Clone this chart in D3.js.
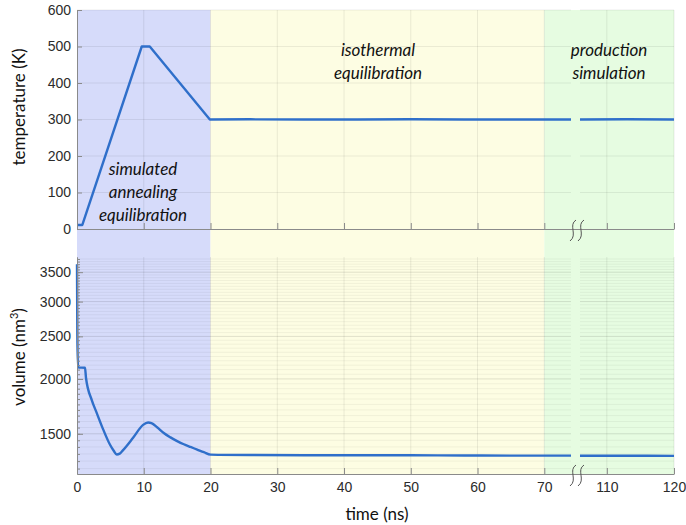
<!DOCTYPE html>
<html>
<head>
<meta charset="utf-8">
<script src="https://cdn.jsdelivr.net/npm/d3@7"></script>
<style>
  body { margin: 0; background: #fff; }
  svg { display: block; }
</style>
</head>
<body>
<div id="chart"></div>
<script>
// run phases (ns)
var phaseStart = [0, 20, 70];
var phaseEnd = [20, 70, 120];
var phaseColors = ["#d6dbfa", "#fdfde3", "#e6fce1"];
var phaseLabels = [["simulated", "annealing", "equilibration"], ["isothermal", "equilibration"], ["production", "simulation"]];

// tick labels
var xTicks = [0, 10, 20, 30, 40, 50, 60, 70, 110, 120];
var tempTicks = [0, 100, 200, 300, 400, 500, 600];
var volTicks = [1500, 2000, 2500, 3000, 3500];

// temperature (K) vs time (ns)
var tempTime = [0, 0.8, 9.7, 10.9, 19.9, 26, 34, 42, 50, 58, 66, 74, 106, 113, 120];
var tempVal = [11, 11, 500, 500, 300, 300.5, 300, 300, 300.5, 300, 300, 300, 300, 300.5, 300];

// volume (nm^3) vs time (ns)
var volTime = [0, 0.05, 0.15, 1.2, 1.35, 2.2, 2.95, 3.95, 4.95, 5.5, 5.95, 6.4, 6.9, 8.4, 9.9, 10.65, 11.15, 12, 13, 14, 15, 16, 17, 18, 19, 20, 26, 34, 42, 50, 58, 66, 74, 106, 113, 120];
var volVal = [3650, 2500, 2125, 2120, 2010, 1792, 1674, 1531, 1416, 1372, 1346, 1352, 1377, 1469, 1572, 1591, 1586, 1553, 1506, 1472, 1444, 1420, 1400, 1381, 1362, 1345, 1342, 1341, 1341, 1340, 1339, 1338, 1338, 1337, 1337, 1336];

var W = 686, H = 525;
var lineColor = "#2f6fca";
var tickFont = "'Liberation Sans', Arial, sans-serif";
var labelFont = "Lato, 'Open Sans', sans-serif";

// broken time axis: 74..106 ns is cut out
var x = d3.scaleLinear().domain([0, 74, 106, 120]).range([77, 571, 580, 674]);
var yT = d3.scaleLinear().domain([0, 600]).range([229, 10]);
var yV = d3.scaleLog().domain([1215, 3790]).range([474, 257]);

var svg = d3.select("#chart").append("svg").attr("width", W).attr("height", H);

// coloured phase bands across both panels
svg.selectAll("rect.phase").data(phaseStart).enter().append("rect")
  .attr("class", "phase")
  .attr("x", function(d) { return x(d); })
  .attr("y", yT(600))
  .attr("width", function(d, i) { return x(phaseEnd[i]) - x(d); })
  .attr("height", yV.range()[0] - yT(600))
  .attr("fill", function(d, i) { return phaseColors[i]; });

function hGrid(g, yPos, op) {
  // horizontal grid, split at the axis break
  [[0, 74], [106, 120]].forEach(function(seg) {
    g.append("line")
      .attr("x1", x(seg[0])).attr("x2", x(seg[1]))
      .attr("y1", yPos).attr("y2", yPos)
      .attr("stroke", "#000").attr("stroke-opacity", op);
  });
}

var grid = svg.append("g");
xTicks.slice(1).forEach(function(t) {
  grid.append("line").attr("x1", x(t)).attr("x2", x(t)).attr("y1", yT(600)).attr("y2", yT(0))
    .attr("stroke", "#000").attr("stroke-opacity", 0.08);
  grid.append("line").attr("x1", x(t)).attr("x2", x(t)).attr("y1", yV.range()[1]).attr("y2", yV.range()[0])
    .attr("stroke", "#000").attr("stroke-opacity", 0.08);
});
tempTicks.slice(1).forEach(function(v) { hGrid(grid, yT(v), 0.07); });
var volMinor = d3.range(1250, 3751, 50);
volMinor.forEach(function(v) { hGrid(grid, yV(v), 0.05); });
volTicks.forEach(function(v) { hGrid(grid, yV(v), 0.07); });

// data lines
function drawLine(times, vals, yScale, curve) {
  var pts = times.map(function(t, i) { return {t: t, v: vals[i]}; });
  var line = d3.line().x(function(d) { return x(d.t); }).y(function(d) { return yScale(d.v); }).curve(curve);
  [pts.filter(function(d) { return d.t <= 74; }), pts.filter(function(d) { return d.t >= 106; })].forEach(function(seg) {
    svg.append("path").datum(seg)
      .attr("d", line)
      .attr("fill", "none")
      .attr("stroke", lineColor)
      .attr("stroke-width", 2.4)
      .attr("stroke-linejoin", "round");
  });
}
drawLine(tempTime, tempVal, yT, d3.curveLinear);
drawLine(volTime, volVal, yV, d3.curveMonotoneX);

// axes
function styleAxis(g) {
  g.attr("font-family", tickFont).attr("font-size", 14);
  g.selectAll("path.domain").attr("stroke", "#8a8a8a");
  g.selectAll(".tick line").attr("stroke", "#8a8a8a");
  g.selectAll(".tick text").attr("fill", "#2b2b2b");
}

svg.append("g").attr("transform", "translate(0," + yT(0) + ")")
  .call(d3.axisBottom(x).tickValues(xTicks).tickSize(-6).tickSizeOuter(0).tickFormat(""))
  .call(styleAxis);
svg.append("g").attr("transform", "translate(0," + yV.range()[0] + ")")
  .call(d3.axisBottom(x).tickValues(xTicks).tickSize(-6).tickSizeOuter(0).tickPadding(8))
  .call(styleAxis);
svg.append("g").attr("transform", "translate(" + x(0) + ",0)")
  .call(d3.axisLeft(yT).tickValues(tempTicks).tickSize(-5).tickSizeOuter(0).tickPadding(6))
  .call(styleAxis);
svg.append("g").attr("transform", "translate(" + x(0) + ",0)")
  .call(d3.axisLeft(yV).tickValues(volMinor).tickSize(-3).tickSizeOuter(0).tickFormat(""))
  .call(styleAxis);
svg.append("g").attr("transform", "translate(" + x(0) + ",0)")
  .call(d3.axisLeft(yV).tickValues(volTicks).tickSize(-6).tickSizeOuter(0).tickPadding(6).tickFormat(d3.format("d")))
  .call(styleAxis);

// break marks on both time axes
[yT(0) + 1, yV.range()[0] + 1].forEach(function(cy) {
  [573, 581].forEach(function(cx) {
    svg.append("path")
      .attr("d", "M" + (cx + 3) + "," + (cy - 10) + " C" + (cx - 5) + "," + (cy - 5) + " " + (cx + 5) + "," + (cy + 5) + " " + (cx - 3) + "," + (cy + 11))
      .attr("fill", "none").attr("stroke", "#555").attr("stroke-width", 1);
  });
});

// axis titles
svg.append("text")
  .attr("transform", "translate(25,107) rotate(-90)")
  .attr("text-anchor", "middle")
  .attr("font-family", labelFont).attr("font-size", 17).attr("fill", "#111")
  .text("temperature (K)");

var vt = svg.append("text")
  .attr("transform", "translate(25,357) rotate(-90)")
  .attr("text-anchor", "middle")
  .attr("font-family", labelFont).attr("font-size", 17).attr("fill", "#111");
vt.append("tspan").text("volume (nm");
vt.append("tspan").attr("font-size", 11).attr("dy", -7).text("3");
vt.append("tspan").attr("dy", 7).text(")");

svg.append("text")
  .attr("x", 377).attr("y", 520)
  .attr("text-anchor", "middle")
  .attr("font-family", labelFont).attr("font-size", 17).attr("fill", "#111")
  .text("time (ns)");

// phase annotations
var annX = [143, 378, 609];
var annY = [175, 56, 56];
phaseLabels.forEach(function(lines, i) {
  var t = svg.append("text")
    .attr("text-anchor", "middle")
    .attr("font-family", labelFont).attr("font-style", "italic")
    .attr("font-size", 17).attr("fill", "#111");
  lines.forEach(function(s, j) {
    t.append("tspan").attr("x", annX[i]).attr("y", annY[i] + j * 23).text(s);
  });
});
</script>
</body>
</html>
